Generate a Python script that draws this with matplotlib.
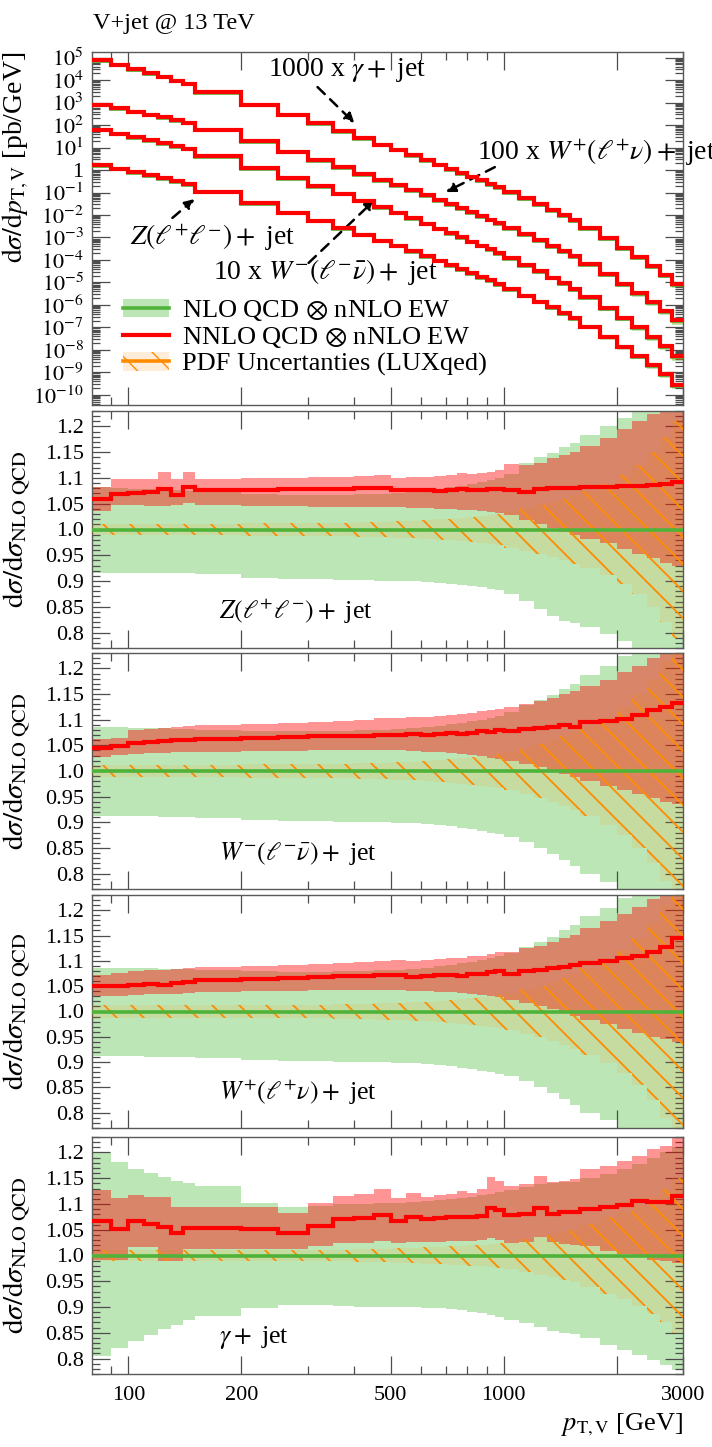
import numpy as np
import matplotlib.pyplot as plt
from matplotlib.patches import Patch
from matplotlib.lines import Line2D
from matplotlib.ticker import (FixedLocator, FixedFormatter, MultipleLocator,
                               LogLocator, NullFormatter)

plt.rcParams['font.family'] = ['Liberation Serif', 'DejaVu Serif']
plt.rcParams['mathtext.fontset'] = 'stix'

# bin edges, pT,V [GeV]
edges = [80, 90, 100, 110, 120, 130, 140, 150, 200, 250, 300, 350, 400, 450,
         500, 550, 600, 650, 700, 750, 800, 850, 900, 950, 1000, 1100, 1200,
         1300, 1400, 1500, 1600, 1800, 2000, 2200, 2400, 2600, 2800, 3000]

# top panel: log10 of NNLO QCD x nNLO EW [pb/GeV], scaled as labelled
gam_x1000_log = [4.89, 4.68, 4.48, 4.30, 4.14, 3.98, 3.84, 3.47, 2.91, 2.46, 2.07, 1.73,
                 1.41, 1.13, 0.90, 0.66, 0.44, 0.24, 0.05, -0.13, -0.30, -0.46, -0.62,
                 -0.77, -0.98, -1.26, -1.52, -1.77, -2.01, -2.24, -2.59, -3.03, -3.46,
                 -3.87, -4.26, -4.65, -5.07]
wp_x100_log = [2.90, 2.75, 2.60, 2.46, 2.34, 2.21, 2.10, 1.79, 1.29, 0.81, 0.45, 0.13,
               -0.17, -0.44, -0.66, -0.90, -1.12, -1.33, -1.52, -1.71, -1.88, -2.05,
               -2.21, -2.37, -2.58, -2.86, -3.12, -3.37, -3.61, -3.84, -4.19, -4.63,
               -5.06, -5.47, -5.86, -6.25, -6.67]
wm_x10_log = [1.78, 1.62, 1.46, 1.32, 1.19, 1.06, 0.94, 0.61, 0.09, -0.35, -0.72, -1.05,
              -1.37, -1.66, -1.90, -2.15, -2.38, -2.60, -2.80, -3.00, -3.18, -3.36,
              -3.53, -3.70, -3.93, -4.23, -4.51, -4.78, -5.04, -5.29, -5.66, -6.12,
              -6.57, -7.00, -7.41, -7.82, -8.26]
z_log = [0.22, 0.06, -0.10, -0.24, -0.37, -0.50, -0.62, -0.96, -1.47, -1.89, -2.25,
         -2.57, -2.87, -3.14, -3.36, -3.60, -3.82, -4.03, -4.22, -4.41, -4.58, -4.75,
         -4.91, -5.07, -5.29, -5.58, -5.85, -6.11, -6.36, -6.60, -6.96, -7.41, -7.85,
         -8.27, -8.67, -9.07, -9.55]

# ratio panels, relative to NLO QCD x nNLO EW
z_nnlo = [1.059, 1.069, 1.070, 1.073, 1.079, 1.067, 1.082, 1.077, 1.077, 1.078, 1.079, 1.078,
          1.081, 1.081, 1.076, 1.077, 1.077, 1.074, 1.077, 1.078, 1.076, 1.076, 1.078, 1.078,
          1.077, 1.073, 1.078, 1.080, 1.081, 1.081, 1.083, 1.083, 1.085, 1.085, 1.086, 1.088, 1.093]
z_nnlo_up = [1.082, 1.098, 1.098, 1.098, 1.112, 1.098, 1.112, 1.098, 1.099, 1.100, 1.101, 1.102,
             1.104, 1.105, 1.100, 1.101, 1.102, 1.103, 1.106, 1.110, 1.108, 1.110, 1.112, 1.116,
             1.128, 1.125, 1.130, 1.138, 1.145, 1.150, 1.163, 1.178, 1.195, 1.210, 1.225, 1.240, 1.260]
z_nnlo_dn = [1.036, 1.047, 1.047, 1.046, 1.046, 1.047, 1.051, 1.048, 1.046, 1.045, 1.044, 1.044,
             1.044, 1.044, 1.043, 1.042, 1.041, 1.040, 1.039, 1.038, 1.037, 1.036, 1.034, 1.032,
             1.028, 1.018, 1.010, 1.003, 0.995, 0.990, 0.982, 0.973, 0.962, 0.952, 0.945, 0.935, 0.930]
z_nlo_up = [1.082, 1.080, 1.079, 1.078, 1.077, 1.076, 1.075, 1.073, 1.069, 1.067, 1.066, 1.067,
            1.068, 1.069, 1.070, 1.072, 1.075, 1.078, 1.082, 1.085, 1.088, 1.092, 1.096, 1.100,
            1.108, 1.130, 1.140, 1.148, 1.160, 1.168, 1.184, 1.200, 1.217, 1.232, 1.245, 1.260, 1.270]
z_nlo_dn = [0.916, 0.916, 0.916, 0.916, 0.916, 0.916, 0.916, 0.914, 0.906, 0.904, 0.903, 0.902,
            0.902, 0.901, 0.901, 0.900, 0.899, 0.897, 0.895, 0.893, 0.891, 0.888, 0.885, 0.882,
            0.875, 0.862, 0.846, 0.833, 0.822, 0.818, 0.810, 0.797, 0.784, 0.765, 0.750, 0.735, 0.720]
z_pdf = [0.011, 0.011, 0.011, 0.011, 0.011, 0.011, 0.011, 0.011, 0.012, 0.012, 0.013, 0.013,
         0.014, 0.015, 0.016, 0.017, 0.018, 0.020, 0.021, 0.023, 0.025, 0.027, 0.029, 0.031,
         0.035, 0.041, 0.047, 0.053, 0.060, 0.066, 0.075, 0.088, 0.105, 0.125, 0.150, 0.180, 0.210]

wm_nnlo = [1.045, 1.048, 1.054, 1.057, 1.058, 1.060, 1.060, 1.063, 1.065, 1.066, 1.068, 1.068,
           1.069, 1.070, 1.070, 1.072, 1.071, 1.073, 1.074, 1.072, 1.075, 1.077, 1.076, 1.080,
           1.078, 1.082, 1.083, 1.085, 1.090, 1.086, 1.095, 1.098, 1.102, 1.110, 1.118, 1.125, 1.132]
wm_nnlo_up = [1.062, 1.064, 1.080, 1.082, 1.084, 1.086, 1.087, 1.090, 1.092, 1.094, 1.096, 1.098,
              1.100, 1.103, 1.104, 1.105, 1.106, 1.108, 1.110, 1.112, 1.114, 1.116, 1.118, 1.120,
              1.124, 1.130, 1.136, 1.142, 1.150, 1.155, 1.165, 1.178, 1.192, 1.205, 1.220, 1.235, 1.250]
wm_nnlo_dn = [1.028, 1.031, 1.034, 1.035, 1.036, 1.037, 1.037, 1.038, 1.039, 1.039, 1.040, 1.040,
              1.040, 1.040, 1.040, 1.039, 1.038, 1.037, 1.035, 1.033, 1.031, 1.029, 1.026, 1.024,
              1.020, 1.014, 1.008, 1.002, 0.995, 0.988, 0.980, 0.970, 0.962, 0.955, 0.948, 0.940, 0.935]
wm_nlo_up = [1.085, 1.085, 1.084, 1.083, 1.083, 1.082, 1.082, 1.080, 1.078, 1.077, 1.077, 1.078,
             1.079, 1.080, 1.081, 1.083, 1.085, 1.088, 1.091, 1.094, 1.097, 1.100, 1.104, 1.108,
             1.115, 1.128, 1.138, 1.148, 1.160, 1.170, 1.188, 1.205, 1.225, 1.245, 1.260, 1.280, 1.300]
wm_nlo_dn = [0.913, 0.913, 0.912, 0.912, 0.911, 0.911, 0.910, 0.908, 0.905, 0.903, 0.902, 0.901,
             0.900, 0.900, 0.899, 0.898, 0.896, 0.894, 0.892, 0.889, 0.886, 0.883, 0.880, 0.877,
             0.872, 0.862, 0.850, 0.838, 0.826, 0.815, 0.800, 0.784, 0.770, 0.750, 0.730, 0.710, 0.690]
wm_pdf = [0.012, 0.012, 0.012, 0.012, 0.012, 0.012, 0.012, 0.012, 0.013, 0.013, 0.014, 0.014,
          0.015, 0.016, 0.017, 0.018, 0.019, 0.021, 0.023, 0.025, 0.027, 0.029, 0.031, 0.034,
          0.038, 0.045, 0.052, 0.060, 0.068, 0.076, 0.088, 0.105, 0.125, 0.150, 0.180, 0.215, 0.250]

wp_nnlo = [1.050, 1.050, 1.052, 1.055, 1.053, 1.057, 1.058, 1.062, 1.065, 1.066, 1.068, 1.070,
           1.070, 1.072, 1.072, 1.068, 1.070, 1.072, 1.073, 1.071, 1.075, 1.074, 1.078, 1.080,
           1.075, 1.080, 1.082, 1.085, 1.088, 1.092, 1.096, 1.100, 1.105, 1.110, 1.118, 1.128, 1.145]
wp_nnlo_up = [1.072, 1.076, 1.080, 1.082, 1.082, 1.084, 1.085, 1.088, 1.090, 1.092, 1.094, 1.096,
              1.098, 1.100, 1.102, 1.100, 1.102, 1.104, 1.106, 1.106, 1.110, 1.110, 1.114, 1.117,
              1.118, 1.125, 1.130, 1.138, 1.145, 1.152, 1.165, 1.178, 1.192, 1.207, 1.222, 1.238, 1.255]
wp_nnlo_dn = [1.030, 1.031, 1.033, 1.034, 1.034, 1.035, 1.036, 1.038, 1.040, 1.041, 1.042, 1.043,
              1.043, 1.043, 1.043, 1.040, 1.040, 1.039, 1.038, 1.036, 1.034, 1.032, 1.030, 1.028,
              1.022, 1.016, 1.010, 1.004, 0.998, 0.992, 0.984, 0.975, 0.966, 0.958, 0.950, 0.945, 0.940]
wp_nlo_up = [1.086, 1.086, 1.085, 1.085, 1.084, 1.084, 1.083, 1.081, 1.079, 1.078, 1.078, 1.079,
             1.080, 1.081, 1.082, 1.084, 1.086, 1.089, 1.092, 1.095, 1.098, 1.101, 1.105, 1.109,
             1.116, 1.128, 1.138, 1.148, 1.160, 1.170, 1.188, 1.205, 1.225, 1.245, 1.262, 1.280, 1.300]
wp_nlo_dn = [0.912, 0.912, 0.912, 0.911, 0.911, 0.910, 0.910, 0.908, 0.905, 0.903, 0.902, 0.901,
             0.900, 0.900, 0.899, 0.898, 0.896, 0.894, 0.892, 0.889, 0.886, 0.883, 0.880, 0.877,
             0.872, 0.862, 0.851, 0.839, 0.827, 0.816, 0.800, 0.785, 0.770, 0.752, 0.732, 0.712, 0.692]
wp_pdf = [0.012, 0.012, 0.012, 0.012, 0.012, 0.012, 0.012, 0.012, 0.013, 0.013, 0.013, 0.014,
          0.015, 0.016, 0.017, 0.018, 0.019, 0.020, 0.022, 0.024, 0.026, 0.028, 0.030, 0.033,
          0.037, 0.044, 0.051, 0.058, 0.066, 0.074, 0.086, 0.102, 0.122, 0.146, 0.175, 0.210, 0.245]

g_nnlo = [1.067, 1.052, 1.067, 1.062, 1.056, 1.043, 1.053, 1.053, 1.051, 1.044, 1.057, 1.070,
          1.072, 1.079, 1.067, 1.075, 1.070, 1.072, 1.074, 1.074, 1.074, 1.077, 1.093, 1.088,
          1.079, 1.081, 1.092, 1.081, 1.085, 1.085, 1.091, 1.095, 1.098, 1.106, 1.103, 1.103, 1.115]
g_nnlo_up = [1.127, 1.111, 1.117, 1.114, 1.113, 1.095, 1.095, 1.095, 1.095, 1.082, 1.101, 1.116,
             1.119, 1.129, 1.111, 1.122, 1.113, 1.117, 1.120, 1.126, 1.122, 1.130, 1.152, 1.145,
             1.135, 1.139, 1.155, 1.142, 1.145, 1.148, 1.168, 1.174, 1.184, 1.194, 1.207, 1.213, 1.230]
g_nnlo_dn = [0.992, 0.992, 1.016, 1.016, 0.989, 0.989, 1.012, 1.012, 1.012, 1.012, 1.018, 1.025,
             1.025, 1.028, 1.025, 1.027, 1.026, 1.027, 1.028, 1.029, 1.029, 1.030, 1.033, 1.031,
             1.025, 1.027, 1.035, 1.026, 1.022, 1.020, 1.018, 1.008, 1.002, 0.999, 0.992, 0.989, 0.986]
g_nlo_up = [1.200, 1.181, 1.168, 1.161, 1.153, 1.145, 1.140, 1.135, 1.101, 1.095, 1.097, 1.100,
            1.100, 1.101, 1.102, 1.104, 1.106, 1.108, 1.110, 1.112, 1.114, 1.117, 1.120, 1.123,
            1.128, 1.133, 1.138, 1.140, 1.142, 1.142, 1.150, 1.158, 1.168, 1.178, 1.190, 1.200, 1.210]
g_nlo_dn = [0.804, 0.820, 0.834, 0.846, 0.857, 0.865, 0.875, 0.883, 0.898, 0.904, 0.904, 0.902,
            0.901, 0.901, 0.900, 0.900, 0.899, 0.898, 0.896, 0.894, 0.891, 0.888, 0.885, 0.881,
            0.875, 0.869, 0.862, 0.854, 0.849, 0.847, 0.840, 0.826, 0.817, 0.807, 0.797, 0.787, 0.777]
g_pdf = [0.010, 0.010, 0.010, 0.010, 0.010, 0.010, 0.010, 0.010, 0.010, 0.010, 0.011, 0.011,
         0.012, 0.013, 0.014, 0.015, 0.016, 0.017, 0.018, 0.019, 0.020, 0.021, 0.023, 0.025,
         0.027, 0.032, 0.037, 0.042, 0.047, 0.052, 0.062, 0.074, 0.085, 0.098, 0.113, 0.130, 0.150]

panel_labels = [r'$Z(\ell^{+}\ell^{-})+$ jet', r'$W^{-}(\ell^{-}\bar{\nu})+$ jet',
                r'$W^{+}(\ell^{+}\nu)+$ jet', r'$\gamma+$ jet']
ytick_vals = [0.8, 0.85, 0.9, 0.95, 1.0, 1.05, 1.1, 1.15, 1.2]
ytick_labels = ['0.8', '0.85', '0.9', '0.95', '1.0', '1.05', '1.1', '1.15', '1.2']
xtick_vals = [100, 200, 500, 1000, 2000, 3000]
xtick_labels = ['100', '200', '500', '1000', '', '3000']

GREEN_LINE = '#4fb33a'
GREEN_FILL = '#bde6b6'
RED = '#ff0000'
ORANGE = '#ff8c00'

edges = np.array(edges, dtype=float)

fig = plt.figure(figsize=(7.12, 14.47), dpi=100)
L, W = 92 / 712, 591 / 712
def rect(top, bot):
    return [L, 1 - bot / 1447, W, (bot - top) / 1447]

ax0 = fig.add_axes(rect(52, 405))
rax = [fig.add_axes(rect(411, 648)), fig.add_axes(rect(653, 889)),
       fig.add_axes(rect(895, 1128)), fig.add_axes(rect(1137, 1374))]


def style_x(ax, labels):
    ax.set_xscale('log')
    ax.set_xlim(80, 3000)
    ax.xaxis.set_major_locator(FixedLocator(xtick_vals))
    ax.xaxis.set_major_formatter(FixedFormatter(xtick_labels))
    ax.xaxis.set_minor_locator(FixedLocator([90, 300, 400, 600, 700, 800, 900]))
    ax.xaxis.set_minor_formatter(NullFormatter())
    ax.tick_params(which='both', direction='in', top=True, right=True,
                   colors='0.3', labelcolor='k', labelsize=16, width=0.9)
    ax.tick_params(which='major', length=13, pad=6)
    ax.tick_params(which='minor', length=6)
    ax.tick_params(axis='x', labelbottom=labels, pad=9)
    for s in ax.spines.values():
        s.set_color('0.35')
        s.set_linewidth(1.0)


def add_hatch(ax, band, step=27):
    bb = ax.get_position()
    wpx = bb.width * fig.get_figwidth() * fig.dpi
    hpx = bb.height * fig.get_figheight() * fig.dpi
    for x0 in np.arange(-hpx, wpx, step):
        ln, = ax.plot([x0 / wpx, (x0 + hpx) / wpx], [1, 0], transform=ax.transAxes,
                      color=ORANGE, lw=1.3, zorder=4)
        ln.set_clip_path(band)


# top panel
main = [(gam_x1000_log, g_nnlo, g_nlo_dn, g_nlo_up, g_pdf),
        (wp_x100_log, wp_nnlo, wp_nlo_dn, wp_nlo_up, wp_pdf),
        (wm_x10_log, wm_nnlo, wm_nlo_dn, wm_nlo_up, wm_pdf),
        (z_log, z_nnlo, z_nlo_dn, z_nlo_up, z_pdf)]
for logv, rat, dn, up, pdf in main:
    nnlo = 10 ** np.array(logv)
    nlo = nnlo / np.array(rat)
    ax0.stairs(nlo * np.array(up), edges, baseline=nlo * np.array(dn), fill=True,
               color=GREEN_FILL, lw=0, zorder=1)
    ax0.stairs(nlo * (1 + np.array(pdf)), edges, baseline=nlo * (1 - np.array(pdf)),
               fill=True, color=ORANGE, alpha=0.3, lw=0, zorder=2)
    ax0.stairs(nlo, edges, baseline=None, color=GREEN_LINE, lw=2.6, zorder=3)
    ax0.stairs(nnlo, edges, baseline=None, color=RED, lw=3, zorder=4)

style_x(ax0, False)
ax0.set_yscale('log')
ax0.set_ylim(10 ** -10.45, 10 ** 5.25)
ax0.yaxis.set_major_locator(FixedLocator(10.0 ** np.arange(-10, 6)))
ax0.yaxis.set_major_formatter(FixedFormatter(
    [r'$10^{%d}$' % e if e != 0 else '1' for e in range(-10, 6)]))
ax0.yaxis.set_minor_locator(LogLocator(base=10, subs=np.arange(2, 10), numticks=100))
ax0.yaxis.set_minor_formatter(NullFormatter())
ax0.set_ylabel(r'$\mathrm{d}\sigma/\mathrm{d}p_{\mathrm{T,V}}$ [pb/GeV]', fontsize=20, loc='top')
ax0.yaxis.set_label_coords(-0.103, 1.0)

# process labels with dashed arrows
arrow = dict(arrowstyle='-|>', color='k', lw=1.8, linestyle=(0, (4, 3)),
             mutation_scale=14, shrinkA=0, shrinkB=0)
ax0.text(235, 10 ** 4.44, r'1000 x $\gamma+$ jet', fontsize=20, va='center')
ax0.annotate('', xy=(400, 10 ** 2.09), xytext=(319, 10 ** 3.69), arrowprops=arrow)
ax0.text(847, 10 ** 0.76, r'100 x $W^{+}(\ell^{+}\nu)+$ jet', fontsize=20, va='center')
ax0.annotate('', xy=(700, 10 ** -0.98), xytext=(946, 10 ** 0.13), arrowprops=arrow)
ax0.text(101, 10 ** -2.98, r'$Z(\ell^{+}\ell^{-})+$ jet', fontsize=20, va='center')
ax0.annotate('', xy=(150, 10 ** -1.29), xytext=(131, 10 ** -2.13), arrowprops=arrow)
ax0.text(168, 10 ** -4.53, r'10 x $W^{-}(\ell^{-}\bar{\nu})+$ jet', fontsize=20, va='center')
ax0.annotate('', xy=(453, 10 ** -1.33), xytext=(302, 10 ** -4.13), arrowprops=arrow)

handles = [(Patch(facecolor=GREEN_FILL, edgecolor='none'), Line2D([], [], color=GREEN_LINE, lw=2.6)),
           Line2D([], [], color=RED, lw=3),
           (Patch(facecolor=(1, 0.55, 0, 0.15), edgecolor=ORANGE, hatch='\\', lw=0),
            Line2D([], [], color=ORANGE, lw=2.6))]
labels = [r'NLO QCD $\otimes$ nNLO EW', r'NNLO QCD $\otimes$ nNLO EW', 'PDF Uncertanties (LUXqed)']
ax0.legend(handles, labels, loc='upper left', bbox_to_anchor=(0.052, 0.303), frameon=False,
           fontsize=19, handlelength=1.75, handletextpad=0.5, labelspacing=0.08,
           borderpad=0, borderaxespad=0)

# ratio panels
ratios = [(z_nnlo, z_nnlo_dn, z_nnlo_up, z_nlo_dn, z_nlo_up, z_pdf),
          (wm_nnlo, wm_nnlo_dn, wm_nnlo_up, wm_nlo_dn, wm_nlo_up, wm_pdf),
          (wp_nnlo, wp_nnlo_dn, wp_nnlo_up, wp_nlo_dn, wp_nlo_up, wp_pdf),
          (g_nnlo, g_nnlo_dn, g_nnlo_up, g_nlo_dn, g_nlo_up, g_pdf)]
for i, (ax, (nn, nn_dn, nn_up, nl_dn, nl_up, pdf)) in enumerate(zip(rax, ratios)):
    pdf = np.array(pdf)
    ax.stairs(nl_up, edges, baseline=nl_dn, fill=True, color=GREEN_FILL, lw=0, zorder=1)
    ax.stairs(nn_up, edges, baseline=nn_dn, fill=True, color=RED, alpha=0.42, lw=0, zorder=2)
    band = ax.stairs(1 + pdf, edges, baseline=1 - pdf, fill=True, color=ORANGE,
                     alpha=0.12, lw=0, zorder=3)
    add_hatch(ax, band)
    ax.stairs(np.ones(len(nn)), edges, baseline=None, color=GREEN_LINE, lw=2.6, zorder=5)
    ax.stairs(nn, edges, baseline=None, color=RED, lw=3, zorder=6)
    ax.set_ylim(0.77, 1.23)
    ax.yaxis.set_major_locator(FixedLocator(ytick_vals))
    ax.yaxis.set_major_formatter(FixedFormatter(ytick_labels))
    ax.yaxis.set_minor_locator(MultipleLocator(0.01))
    style_x(ax, i == 3)
    ax.set_ylabel(r'$\mathrm{d}\sigma/\mathrm{d}\sigma_{\mathrm{NLO\ QCD}}$', fontsize=21)
    ax.yaxis.set_label_coords(-0.1, 0.5)
    ax.text(0.215, 0.84, panel_labels[i], transform=ax.get_yaxis_transform(),
            fontsize=18.5, va='center')

rax[3].set_xlabel(r'$p_{\mathrm{T,V}}$ [GeV]', fontsize=19, loc='right', labelpad=4)
fig.text(93 / 712, 1 - 23 / 1447, 'V+jet @ 13 TeV', fontsize=17.5, va='center')

fig.savefig('out.png', dpi=100)
